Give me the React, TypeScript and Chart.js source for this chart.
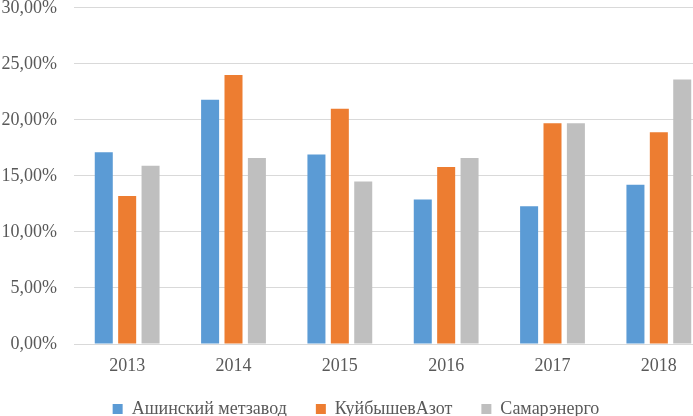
import React, { useEffect, useRef } from "react";
import { Chart, registerables } from "chart.js";

Chart.register(...registerables);

const categories = ["2013", "2014", "2015", "2016", "2017", "2018"];
const ashinsky = [17.1, 21.8, 16.9, 12.9, 12.3, 14.2];
const kuibyshev = [13.2, 24.0, 21.0, 15.8, 19.7, 18.9];
const samara = [15.9, 16.6, 14.5, 16.6, 19.7, 23.6];
const seriesNames = ["Ашинский метзавод", "КуйбышевАзот", "Самарэнерго"];
const seriesColors = ["#5B9BD5", "#ED7D31", "#BFBFBF"];

const FONT = "'Liberation Serif', 'Times New Roman', serif";
const TEXT = "#595959";

Chart.defaults.font.family = FONT;
Chart.defaults.font.size = 18;
Chart.defaults.color = TEXT;

export default function App() {
  const ref = useRef<HTMLCanvasElement | null>(null);

  useEffect(() => {
    if (!ref.current) return;
    const chart = new Chart(ref.current, {
      type: "bar",
      data: {
        labels: categories,
        datasets: [ashinsky, kuibyshev, samara].map((d, i) => ({
          label: seriesNames[i],
          data: d,
          backgroundColor: seriesColors[i],
          borderWidth: 0,
          categoryPercentage: 0.66,
          barPercentage: 0.77,
        })),
      },
      options: {
        responsive: false,
        animation: false,
        devicePixelRatio: 1,
        layout: { padding: { left: 0, right: 2, top: 0, bottom: 0 } },
        plugins: {
          tooltip: { enabled: false },
          legend: {
            position: "bottom",
            labels: {
              boxWidth: 10,
              boxHeight: 10,
              padding: 29,
              color: TEXT,
              font: { family: FONT, size: 18 },
            },
          },
        },
        scales: {
          x: {
            grid: { display: false, drawTicks: false },
            border: { display: true, color: "#D9D9D9", width: 1 },
            ticks: {
              color: TEXT,
              padding: 11,
              font: { family: FONT, size: 18 },
            },
            afterFit: (s: any) => {
              s.height = 27;
            },
          },
          y: {
            min: 0,
            max: 30,
            grid: { color: "#D9D9D9", lineWidth: 1, drawTicks: false },
            border: { display: false },
            ticks: {
              stepSize: 5,
              color: TEXT,
              padding: 17,
              font: { family: FONT, size: 18 },
              callback: (v: any) => Number(v).toFixed(2).replace(".", ",") + "%",
            },
            afterFit: (s: any) => {
              s.width = 74;
            },
          },
        },
      },
    });
    return () => chart.destroy();
  }, []);

  return (
    <div
      style={{
        position: "fixed",
        left: 0,
        top: 0,
        width: 693,
        height: 416,
        overflow: "hidden",
        background: "#fff",
      }}
    >
      <canvas
        ref={ref}
        width={714}
        height={448}
        style={{ position: "absolute", left: 0, top: -20, width: 714, height: 448 }}
      />
    </div>
  );
}
